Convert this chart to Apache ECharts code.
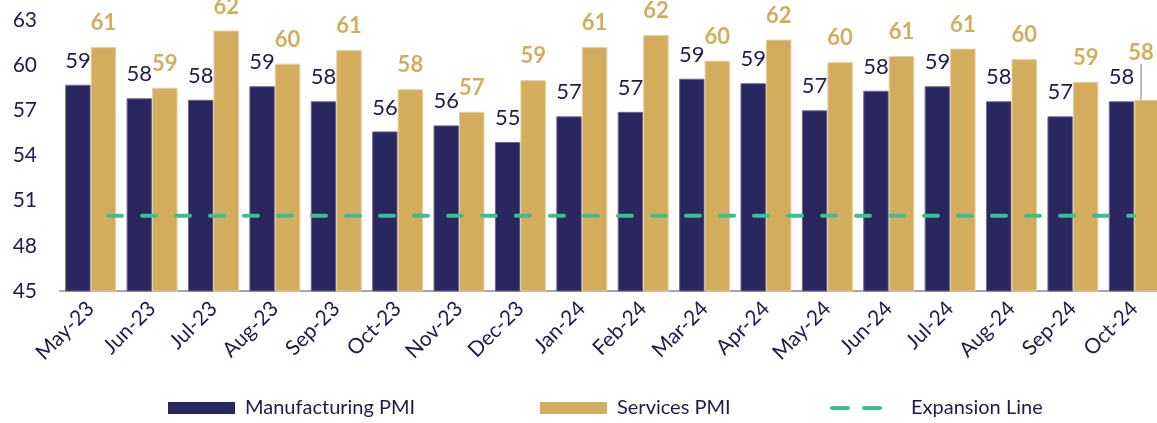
<!DOCTYPE html>
<html>
<head>
<meta charset="utf-8">
<script src="https://cdn.jsdelivr.net/npm/echarts@6/dist/echarts.min.js"></script>
<style>
  html, body { margin: 0; padding: 0; background: #fff; }
  #main { width: 1157px; height: 423px; }
</style>
</head>
<body>
<div id="main"></div>
<script>
var months = ['May-23', 'Jun-23', 'Jul-23', 'Aug-23', 'Sep-23', 'Oct-23', 'Nov-23', 'Dec-23',
  'Jan-24', 'Feb-24', 'Mar-24', 'Apr-24', 'May-24', 'Jun-24', 'Jul-24', 'Aug-24', 'Sep-24', 'Oct-24'];
var manufacturing = [58.7, 57.8, 57.7, 58.6, 57.6, 55.6, 56.0, 54.9, 56.6, 56.9, 59.1, 58.8,
  57.0, 58.3, 58.6, 57.6, 56.6, 57.6];
var services = [61.2, 58.5, 62.3, 60.1, 61.0, 58.4, 56.9, 59.0, 61.2, 62.0, 60.3, 61.7,
  60.2, 60.6, 61.1, 60.4, 58.9, 57.7];
var expansion = months.map(function () { return 50; });

var navy = '#2A2660';
var gold = '#D4AC5E';
var green = '#3BBF8D';
var textColor = '#1E1B4D';
var font = 'Lato';

// last services label is pushed up with a leader line
var servicesData = services.map(function (v, i) {
  if (i === services.length - 1) {
    return { value: v, labelLine: { show: true, lineStyle: { color: '#A6A6A6', width: 1.5 } } };
  }
  return v;
});

function legendText(pad) {
  return { color: textColor, fontSize: 20, fontFamily: font, padding: [0, 0, 0, pad] };
}

var myChart = echarts.init(document.getElementById('main'));
myChart.setOption({
  animation: false,
  textStyle: { fontFamily: font },
  grid: { left: 60, right: -8, top: 20, bottom: 132, outerBoundsMode: 'none' },
  legend: [
    { data: [{ name: 'Manufacturing PMI', icon: 'rect', itemStyle: { borderWidth: 0 } }],
      left: 168, top: 398, padding: 0, itemWidth: 67, itemHeight: 12, textStyle: legendText(5) },
    { data: [{ name: 'Services PMI', icon: 'rect', itemStyle: { borderWidth: 0 } }],
      left: 540, top: 398, padding: 0, itemWidth: 67, itemHeight: 12, textStyle: legendText(5) },
    { data: [{ name: 'Expansion Line',
        itemStyle: { color: 'rgba(0,0,0,0)', borderWidth: 0, opacity: 0 },
        lineStyle: { type: [16, 16], dashOffset: 0, width: 4, cap: 'round' } }],
      left: 830, top: 398, padding: 0, itemWidth: 50, itemHeight: 12, textStyle: legendText(24) }
  ],
  xAxis: {
    type: 'category',
    data: months,
    axisTick: { show: false },
    axisLine: { lineStyle: { color: '#A6A6A6', width: 2 } },
    axisLabel: { interval: 0, rotate: 45, margin: 14, color: textColor, fontSize: 21, fontFamily: font }
  },
  yAxis: {
    type: 'value',
    min: 45,
    max: 63,
    interval: 3,
    splitLine: { show: false },
    axisLine: { show: false },
    axisTick: { show: false },
    axisLabel: { margin: 23, color: textColor, fontSize: 21, fontFamily: font }
  },
  series: [
    {
      name: 'Manufacturing PMI',
      type: 'bar',
      data: manufacturing,
      barGap: '0%',
      barCategoryGap: '17%',
      itemStyle: { color: navy, borderColor: '#6A6790', borderWidth: 1 },
      label: {
        show: true, position: 'top', distance: 13, color: textColor, fontSize: 22, fontFamily: font,
        formatter: function (p) { return Math.round(p.value); }
      }
    },
    {
      name: 'Services PMI',
      type: 'bar',
      data: servicesData,
      itemStyle: { color: gold, borderColor: '#E6CF9F', borderWidth: 1 },
      label: {
        show: true, position: 'top', distance: 13, color: gold, fontSize: 22, fontWeight: 'bold', fontFamily: font,
        formatter: function (p) { return Math.round(p.value); }
      },
      labelLayout: function (p) {
        if (p.dataIndex === services.length - 1) {
          return { dx: -6, dy: -23 };
        }
      }
    },
    {
      name: 'Expansion Line',
      type: 'line',
      data: expansion,
      symbol: 'none',
      z: 5,
      itemStyle: { color: green },
      lineStyle: { color: green, width: 4, type: [14, 20], dashOffset: 16.7, cap: 'round' }
    }
  ]
});
</script>
</body>
</html>
